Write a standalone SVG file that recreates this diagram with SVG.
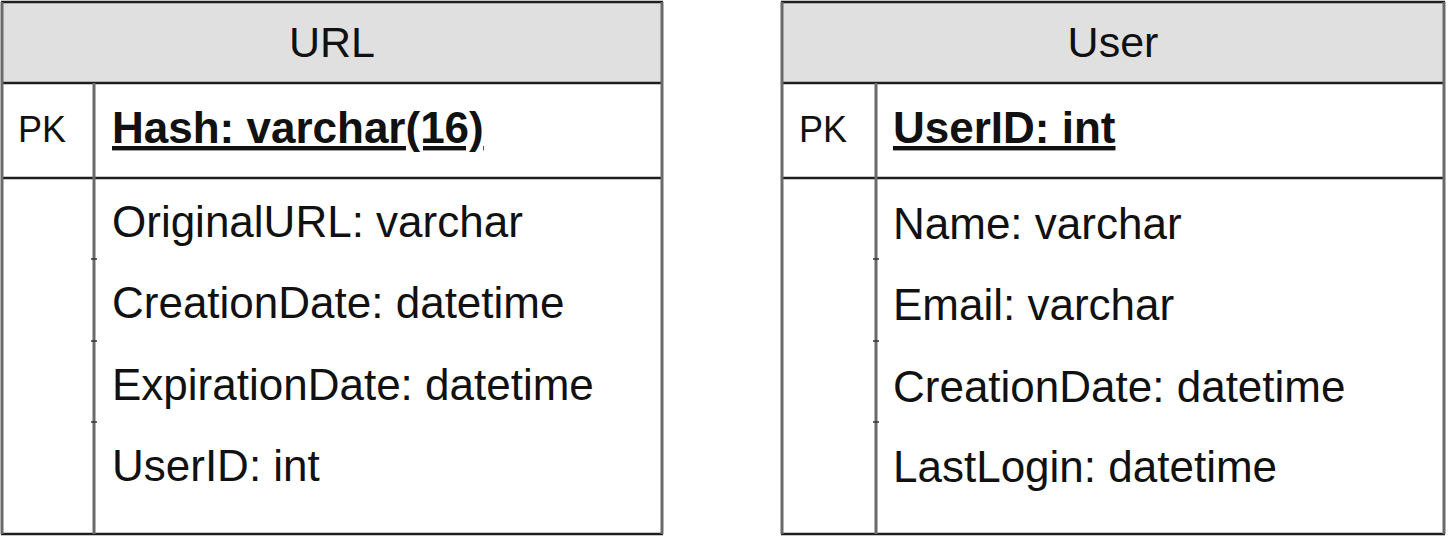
<svg xmlns="http://www.w3.org/2000/svg" width="1448" height="538" viewBox="0 0 1448 538">
<style>
text{font-family:"Liberation Sans",Arial,Helvetica,sans-serif;fill:#111}
.hdr{fill:#e0e0e0;stroke:none}
.body{fill:#fff;stroke:none}
.h{stroke:#1e1e1e;stroke-width:2.6;fill:none}
.v{stroke:#6a6a6a;stroke-width:3;fill:none}
.tick{stroke:#333;stroke-width:1.5}
.title{font-size:43px;text-anchor:middle}
.pk{font-size:36px}
.key{font-size:44px;font-weight:bold;text-decoration:underline}
.f{font-size:44px}
</style>
<rect width="1448" height="538" fill="#fff"/>
<g id="url-table">
<rect class="body" x="2" y="2" width="660" height="532"/>
<rect class="hdr" x="2" y="2" width="660" height="81"/>
<line class="h" x1="1" y1="2" x2="663" y2="2"/>
<line class="h" x1="1" y1="83" x2="663" y2="83"/>
<line class="h" x1="1" y1="178" x2="663" y2="178"/>
<line class="h" x1="1" y1="534" x2="663" y2="534"/>
<line class="v" x1="2" y1="2" x2="2" y2="534"/>
<line class="v" x1="662" y1="2" x2="662" y2="534"/>
<line class="v" x1="94" y1="83" x2="94" y2="534"/>
<line class="tick" x1="91" y1="259" x2="97" y2="259"/>
<line class="tick" x1="91" y1="341" x2="97" y2="341"/>
<line class="tick" x1="91" y1="422" x2="97" y2="422"/>
<text class="title" x="332" y="57">URL</text>
<text class="pk" x="18" y="142">PK</text>
<text class="key" x="112" y="143">Hash: varchar(16)</text>
<text class="f" x="112" y="237">OriginalURL: varchar</text>
<text class="f" x="112" y="318">CreationDate: datetime</text>
<text class="f" x="112" y="400">ExpirationDate: datetime</text>
<text class="f" x="112" y="481">UserID: int</text>
</g>
<g id="user-table">
<rect class="body" x="782" y="2" width="662" height="532"/>
<rect class="hdr" x="782" y="2" width="662" height="81"/>
<line class="h" x1="781" y1="2" x2="1445" y2="2"/>
<line class="h" x1="781" y1="83" x2="1445" y2="83"/>
<line class="h" x1="781" y1="178" x2="1445" y2="178"/>
<line class="h" x1="781" y1="534" x2="1445" y2="534"/>
<line class="v" x1="782" y1="2" x2="782" y2="534"/>
<line class="v" x1="1444" y1="2" x2="1444" y2="534"/>
<line class="v" x1="876" y1="83" x2="876" y2="534"/>
<line class="tick" x1="873" y1="259" x2="879" y2="259"/>
<line class="tick" x1="873" y1="341" x2="879" y2="341"/>
<line class="tick" x1="873" y1="422" x2="879" y2="422"/>
<text class="title" x="1113" y="57">User</text>
<text class="pk" x="799" y="142">PK</text>
<text class="key" x="893" y="143">UserID: int</text>
<text class="f" x="893" y="239">Name: varchar</text>
<text class="f" x="893" y="320">Email: varchar</text>
<text class="f" x="893" y="402">CreationDate: datetime</text>
<text class="f" x="893" y="482">LastLogin: datetime</text>
</g>
<g id="connectors"></g>
</svg>
